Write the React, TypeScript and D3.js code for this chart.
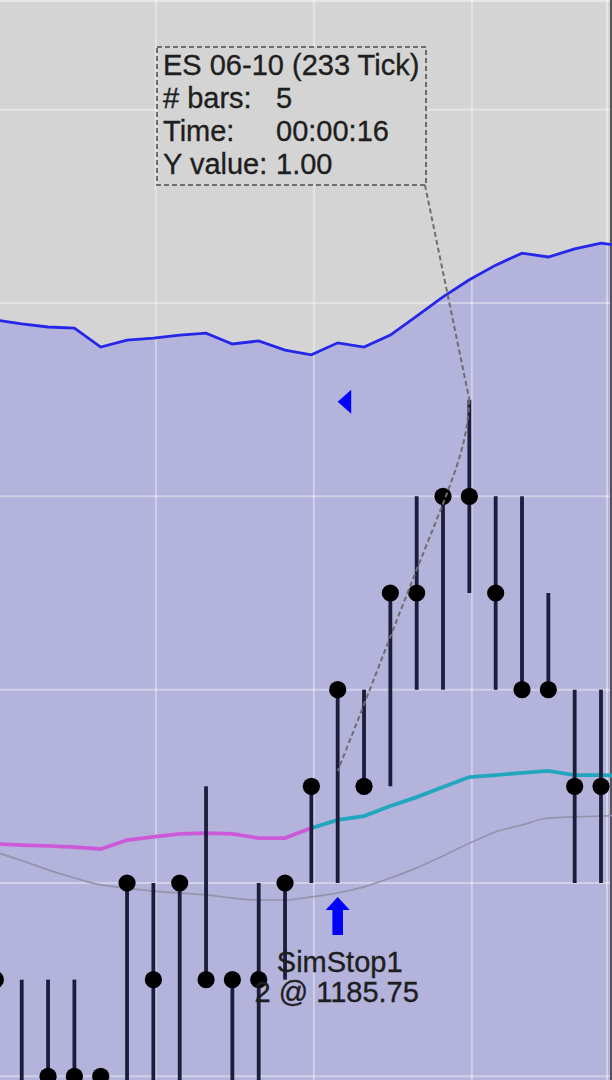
import React from "react";
import * as d3 from "d3";

const W = 612;
const H = 1080;

// OHLC-ish bars (index 0..23): high, low, close
const highs = [1185.5, 1185.5, 1185.5, 1185.5, 1185.25, 1185.75, 1185.75, 1185.75, 1186.0, 1185.5, 1185.75, 1185.75, 1186.0, 1186.25, 1186.25, 1186.5, 1186.75, 1186.75, 1187.0, 1186.75, 1186.75, 1186.5, 1186.25, 1186.25];
const lows = [1185.25, 1185.0, 1185.25, 1185.25, 1185.25, 1185.0, 1185.0, 1185.0, 1185.5, 1185.0, 1185.0, 1185.5, 1185.75, 1185.75, 1186.0, 1186.0, 1186.25, 1186.25, 1186.5, 1186.25, 1186.25, 1186.25, 1185.75, 1185.75];
const closes = [1185.5, 1185.0, 1185.25, 1185.25, 1185.25, 1185.75, 1185.5, 1185.75, 1185.5, 1185.5, 1185.5, 1185.75, 1186.0, 1186.25, 1186.0, 1186.5, 1186.5, 1186.75, 1186.75, 1186.5, 1186.25, 1186.25, 1186.0, 1186.0];

// Upper band (blue line with filled area below), index 0..24
const upperBand = [1187.206, 1187.196, 1187.188, 1187.185, 1187.136, 1187.154, 1187.159, 1187.167, 1187.172, 1187.144, 1187.152, 1187.128, 1187.116, 1187.147, 1187.136, 1187.167, 1187.216, 1187.266, 1187.31, 1187.348, 1187.379, 1187.369, 1187.39, 1187.405, 1187.395];

// Fast moving average (magenta while flat/down, teal while rising)
const fastMA = [1185.851, 1185.848, 1185.846, 1185.843, 1185.838, 1185.861, 1185.869, 1185.877, 1185.879, 1185.877, 1185.866, 1185.866, 1185.892, 1185.913, 1185.923, 1185.949, 1185.972, 1185.998, 1186.024, 1186.029, 1186.035, 1186.04, 1186.029, 1186.029, 1186.027];
const fastMAUpFrom = 12;

// Slow moving average (thin gray)
const slowMA = [1185.83, 1185.808, 1185.784, 1185.763, 1185.745, 1185.737, 1185.729, 1185.724, 1185.719, 1185.711, 1185.706, 1185.706, 1185.714, 1185.724, 1185.74, 1185.763, 1185.789, 1185.82, 1185.853, 1185.882, 1185.9, 1185.918, 1185.921, 1185.923, 1185.926];

// Grid
const priceGrid = [1185.25, 1185.75, 1186.25, 1186.75, 1187.25, 1187.75];
const barGrid = [0, 6, 12, 18];

// Annotations
const stopBar = 13;
const stopLabel = ["SimStop1", "2 @ 1185.75"];
const markerBar = 13;
const markerPrice = 1187.0;
const measureStart = { bar: 13, price: 1186.04 };
const measureEnd = { bar: 18, price: 1187.0 };
const tooltipTitle = "ES 06-10 (233 Tick)";
const tooltipLabels = ["# bars:", "Time:", "Y value:"];
const tooltipValues = ["5", "00:00:16", "1.00"];

const FONT = "'Liberation Sans', Arial, sans-serif";
const FS = 29;
const TXT = "#1e1e1e";

export default function App() {
  const x = d3.scaleLinear().domain([0, 23]).range([-4.6, 601]);
  const y = d3.scaleLinear().domain([1185.25, 1187.75]).range([1076.3, 109.7]);

  const idx25 = d3.range(upperBand.length);
  const area = d3
    .area<number>()
    .x((i) => x(i))
    .y0(H + 10)
    .y1((i) => y(upperBand[i]));
  const upperLine = d3
    .line<number>()
    .x((i) => x(i))
    .y((i) => y(upperBand[i]));
  const fastLine = d3
    .line<number>()
    .x((i) => x(i))
    .y((i) => y(fastMA[i]));
  const slowLine = d3
    .line<number>()
    .x((i) => x(i))
    .y((i) => y(slowMA[i]))
    .curve(d3.curveMonotoneX);

  const downIdx = idx25.filter((i) => i <= fastMAUpFrom);
  const upIdx = idx25.filter((i) => i >= fastMAUpFrom);

  const sx = x(stopBar);
  const stopTop = y(lows[stopBar]) + 14;

  const mx = x(markerBar);
  const my = y(markerPrice) + 2;

  const bx = 157, by = 47, bw = 269, bh = 138;
  const ax = x(measureStart.bar), ay = y(measureStart.price);
  const ex = x(measureEnd.bar), ey = y(measureEnd.price);
  const measurePath = d3.line<[number, number]>().curve(d3.curveBasis)([
    [ex, ey],
    [ex - 2, ey + 30],
    [ex - 14, ey + 75],
    [ax + 78, ay - 200],
    [ax + 26, ay - 65],
    [ax, ay],
  ]);

  const textProps = {
    fontFamily: FONT,
    fontSize: FS,
    fill: TXT,
    stroke: TXT,
    strokeWidth: 0.35,
  };

  return (
    <svg
      width={W}
      height={H}
      style={{ position: "fixed", left: 0, top: 0, display: "block" }}
    >
      <rect x={0} y={0} width={W} height={H} fill="#d4d4d4" />
      <path d={area(idx25) || ""} fill="#b3b3dc" />
      {/* grid */}
      {priceGrid.map((p) => (
        <line key={"h" + p} x1={0} x2={W} y1={y(p)} y2={y(p)} stroke="#ffffff" strokeOpacity={0.38} strokeWidth={2} />
      ))}
      {barGrid.map((b) => (
        <line key={"v" + b} x1={x(b) + 2.5} x2={x(b) + 2.5} y1={0} y2={H} stroke="#ffffff" strokeOpacity={0.38} strokeWidth={2} />
      ))}
      <line x1={0} x2={W} y1={1} y2={1} stroke="#ffffff" strokeOpacity={0.45} strokeWidth={2} />
      <line x1={607} x2={607} y1={0} y2={H} stroke="#ffffff" strokeOpacity={0.4} strokeWidth={2} />
      <line x1={611} x2={611} y1={0} y2={H} stroke="#555555" strokeWidth={2} />

      {/* upper band line */}
      <path d={upperLine(idx25) || ""} fill="none" stroke="#2626e8" strokeWidth={2.8} />

      {/* moving averages */}
      <path d={slowLine(idx25) || ""} fill="none" stroke="#9494ac" strokeWidth={1.7} />
      <path d={fastLine(downIdx) || ""} fill="none" stroke="#cc5ad8" strokeWidth={3.8} />
      <path d={fastLine(upIdx) || ""} fill="none" stroke="#22a6be" strokeWidth={3.8} />

      {/* bars */}
      {closes.map((c, i) => (
        <g key={"b" + i}>
          <line x1={x(i)} x2={x(i)} y1={y(highs[i])} y2={y(lows[i])} stroke="#1c1c3c" strokeWidth={3.8} />
          <circle cx={x(i)} cy={y(c)} r={8.6} fill="#000000" />
        </g>
      ))}

      {/* marker triangle */}
      <path
        d={`M${mx},${my} L${mx + 13.5},${my - 12} L${mx + 13.5},${my + 12} Z`}
        fill="#0000ff"
      />

      {/* stop arrow */}
      <path
        d={`M${sx},${stopTop} L${sx + 12},${stopTop + 13} L${sx + 5.3},${stopTop + 13} L${sx + 5.3},${stopTop + 38} L${sx - 5.3},${stopTop + 38} L${sx - 5.3},${stopTop + 13} L${sx - 12},${stopTop + 13} Z`}
        fill="#0000ff"
      />
      <text x={sx + 2} y={972} textAnchor="middle" {...textProps}>
        {stopLabel[0]}
      </text>
      <text x={sx - 1} y={1002} textAnchor="middle" {...textProps}>
        {stopLabel[1]}
      </text>

      {/* measure lines */}
      <path d={measurePath || ""} fill="none" stroke="#6e6e6e" strokeWidth={2} strokeDasharray="5 3" />
      <line x1={bx + bw - 1} y1={by + bh} x2={ex} y2={ey} stroke="#6e6e6e" strokeWidth={2} strokeDasharray="5 3" />

      {/* tooltip */}
      <rect x={bx} y={by} width={bw} height={bh} fill="#d4d4d4" stroke="#6e6e6e" strokeWidth={2} strokeDasharray="5 3" />
      <text x={163} y={75} {...textProps}>
        {tooltipTitle}
      </text>
      {tooltipLabels.map((l, i) => (
        <g key={"t" + i}>
          <text x={163} y={108 + i * 33} {...textProps}>
            {l}
          </text>
          <text x={276} y={108 + i * 33} {...textProps}>
            {tooltipValues[i]}
          </text>
        </g>
      ))}
    </svg>
  );
}
